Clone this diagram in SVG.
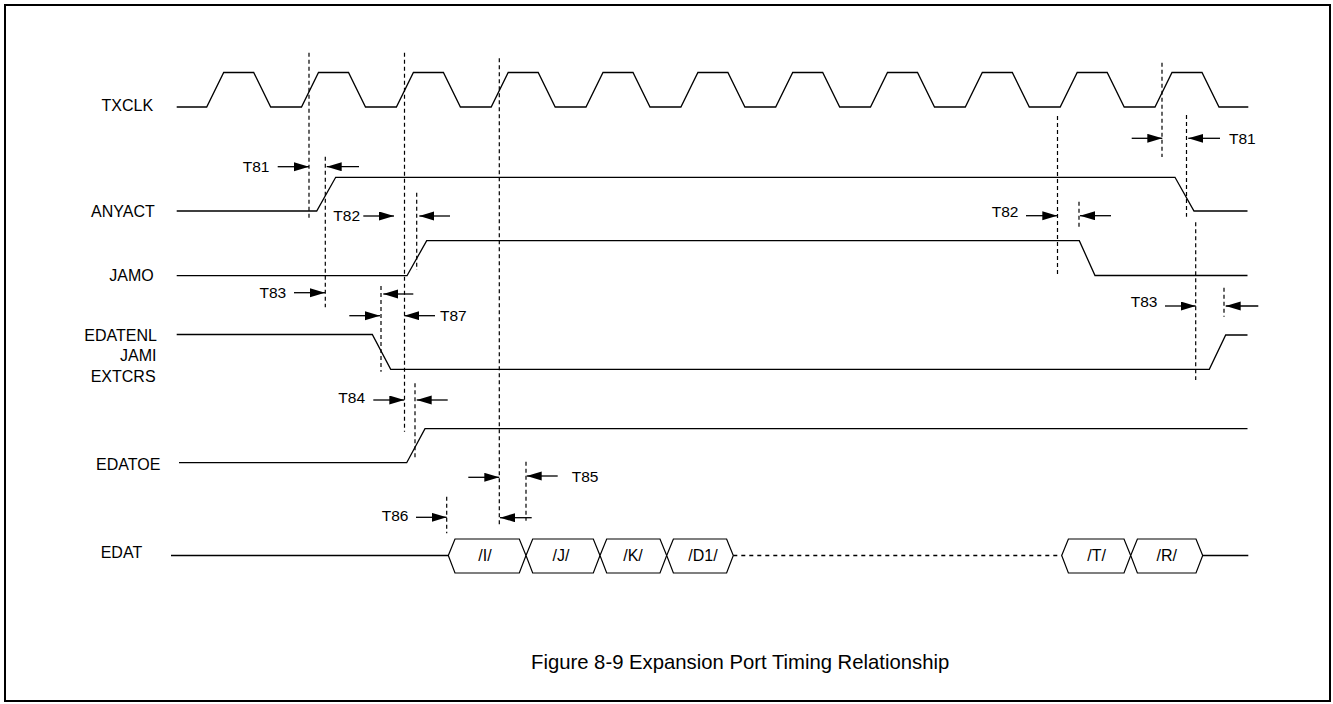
<svg xmlns="http://www.w3.org/2000/svg" width="1333" height="704" viewBox="0 0 1333 704">
<style>
.sig{fill:none;stroke:#000;stroke-width:1.3}
.dash{fill:none;stroke:#000;stroke-width:1.2;stroke-dasharray:4,3}
.arr{fill:none;stroke:#000;stroke-width:1.3;marker-end:url(#ah)}
.lbl{font-family:"Liberation Sans",Arial,sans-serif;font-size:16px;fill:#000}
.t{font-family:"Liberation Sans",Arial,sans-serif;font-size:15.5px;fill:#000}
.hx{fill:#fff;stroke:#000;stroke-width:1.2}
.ht{font-family:"Liberation Sans",Arial,sans-serif;font-size:16px;fill:#000;text-anchor:middle}
</style>
<defs>
<marker id="ah" markerUnits="userSpaceOnUse" markerWidth="16" markerHeight="10" refX="15" refY="4.5" orient="auto">
<path d="M0,0 L15,4.5 L0,9 Z" fill="#000"/>
</marker>
</defs>
<rect x="0" y="0" width="1333" height="704" fill="#fff"/>
<rect x="5" y="5" width="1325" height="696" fill="none" stroke="#000" stroke-width="2"/>

<g id="txclk">
<text class="lbl" x="101.5" y="111">TXCLK</text>
<path class="sig" d="M176.7,107 L206.7,107 L223.7,72.5 L253.7,72.5 L270.7,107 L301.5,107 L318.5,72.5 L348.5,72.5 L365.5,107 L396.4,107 L413.4,72.5 L443.4,72.5 L460.4,107 L491.2,107 L508.2,72.5 L538.2,72.5 L555.2,107 L586,107 L603,72.5 L633,72.5 L650,107 L680.9,107 L697.9,72.5 L727.9,72.5 L744.9,107 L775.7,107 L792.7,72.5 L822.7,72.5 L839.7,107 L870.5,107 L887.5,72.5 L917.5,72.5 L934.5,107 L965.3,107 L982.3,72.5 L1012.3,72.5 L1029.3,107 L1060.2,107 L1077.2,72.5 L1107.2,72.5 L1124.2,107 L1155,107 L1172,72.5 L1202,72.5 L1219,107 L1248.3,107"/>
</g>

<g id="anyact">
<text class="lbl" x="91" y="216.7">ANYACT</text>
<path class="sig" d="M176.7,211 L316.7,211 L335.7,177.3 L1175,177.3 L1194,211 L1247.5,211"/>
</g>

<g id="jamo">
<text class="lbl" x="109.3" y="281">JAMO</text>
<path class="sig" d="M176.7,275.7 L407,275.7 L426.7,240.7 L1079.3,240.7 L1095,275.5 L1247.5,275.5"/>
</g>

<g id="edatenl">
<text class="lbl" x="84.3" y="340.7">EDATENL</text>
<text class="lbl" x="120" y="361">JAMI</text>
<text class="lbl" x="90.7" y="381.7">EXTCRS</text>
<path class="sig" d="M176.7,334.5 L372.3,334.5 L390.7,369.3 L1209.3,369.3 L1225.7,335 L1247.5,335"/>
</g>

<g id="edatoe">
<text class="lbl" x="96" y="470">EDATOE</text>
<path class="sig" d="M179,462.7 L406.7,462.7 L425,428.7 L1247.5,428.7"/>
</g>

<g id="edat">
<text class="lbl" x="100.7" y="558.3">EDAT</text>
<path class="sig" d="M171,555.5 L448.3,555.5"/>
<polygon class="hx" points="448.3,555.5 455,539 519.3,539 526,555.5 519.3,573 455,573"/>
<polygon class="hx" points="526,555.5 532.7,539 593.3,539 600,555.5 593.3,573 532.7,573"/>
<polygon class="hx" points="600,555.5 606.7,539 660,539 666.7,555.5 660,573 606.7,573"/>
<polygon class="hx" points="666.7,555.5 673.4,539 726.6,539 733.3,555.5 726.6,573 673.4,573"/>
<path class="sig" d="M733.3,555.5 L1061.7,555.5" stroke-dasharray="4,4"/>
<polygon class="hx" points="1061.7,555.5 1068.4,539 1124,539 1130.7,555.5 1124,573 1068.4,573"/>
<polygon class="hx" points="1130.7,555.5 1137.4,539 1196,539 1202.7,555.5 1196,573 1137.4,573"/>
<path class="sig" d="M1202.7,555.5 L1248.3,555.5"/>
<text class="ht" x="485" y="561">/I/</text>
<text class="ht" x="561" y="561">/J/</text>
<text class="ht" x="633" y="561">/K/</text>
<text class="ht" x="703" y="561">/D1/</text>
<text class="ht" x="1096.7" y="561">/T/</text>
<text class="ht" x="1166.7" y="561">/R/</text>
</g>

<g id="connectors">
<path class="dash" d="M309,52.7 V220"/>
<path class="dash" d="M404.5,52.7 V431.7"/>
<path class="dash" d="M499.3,58.3 V526.7"/>
<path class="dash" d="M325.3,156.7 V307.3"/>
<path class="dash" d="M416.7,192.7 V270"/>
<path class="dash" d="M381,286 V371.7"/>
<path class="dash" d="M415,383.3 V458.3"/>
<path class="dash" d="M526,461.7 V520.7"/>
<path class="dash" d="M446.7,496.7 V533.3"/>
<path class="dash" d="M1057.5,116 V274"/>
<path class="dash" d="M1079,201.7 V229.3"/>
<path class="dash" d="M1162,62.7 V157"/>
<path class="dash" d="M1186.5,115 V216.7"/>
<path class="dash" d="M1195.7,222.3 V380"/>
<path class="dash" d="M1224,287.7 V316.7"/>

<path class="arr" d="M277.7,166.7 H309"/>
<path class="arr" d="M359,166.7 H326.7"/>
<path class="arr" d="M1131.7,138.3 H1162.3"/>
<path class="arr" d="M1220,138.3 H1188.3"/>
<path class="arr" d="M363.3,216 H394"/>
<path class="arr" d="M450,216 H419.3"/>
<path class="arr" d="M1026,215.7 H1057.3"/>
<path class="arr" d="M1111,215.7 H1080"/>
<path class="arr" d="M294,292.7 H325"/>
<path class="arr" d="M413.3,294 H383.3"/>
<path class="arr" d="M349.3,315.7 H380"/>
<path class="arr" d="M435,315.7 H404.3"/>
<path class="arr" d="M1165,306 H1195.7"/>
<path class="arr" d="M1258.3,306 H1225.7"/>
<path class="arr" d="M373.3,400 H404.3"/>
<path class="arr" d="M447.7,400 H416.7"/>
<path class="arr" d="M468.3,477.3 H499.3"/>
<path class="arr" d="M557.7,476 H526.7"/>
<path class="arr" d="M531.7,517.7 H500"/>
<path class="arr" d="M416,517.3 H446.7"/>
</g>

<g id="timing-labels">
<text class="t" x="242.7" y="171.5">T81</text>
<text class="t" x="1229" y="144">T81</text>
<text class="t" x="333.3" y="220.5">T82</text>
<text class="t" x="991.7" y="217">T82</text>
<text class="t" x="259.5" y="297.5">T83</text>
<text class="t" x="1130.7" y="307">T83</text>
<text class="t" x="440" y="321">T87</text>
<text class="t" x="338.3" y="403">T84</text>
<text class="t" x="571.7" y="482">T85</text>
<text class="t" x="381.7" y="521">T86</text>
</g>

<text class="lbl" x="531" y="668.5" style="font-size:20.3px">Figure 8-9 Expansion Port Timing Relationship</text>
</svg>
